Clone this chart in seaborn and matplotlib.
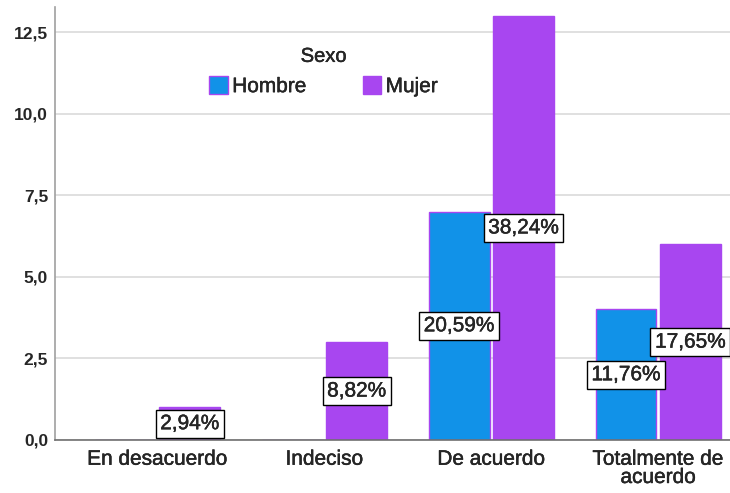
import pandas as pd
import numpy as np
import matplotlib
matplotlib.use("Agg")
import matplotlib.pyplot as plt
import matplotlib.patheffects as pe
import seaborn as sns
from matplotlib.ticker import FuncFormatter

categorias = ["En desacuerdo", "Indeciso", "De acuerdo", "Totalmente de\nacuerdo"]
hombre = [0, 0, 7, 4]
mujer = [1, 3, 13, 6]
pct_hombre = ["", "", "20,59%", "11,76%"]
pct_mujer = ["2,94%", "8,82%", "38,24%", "17,65%"]
yticks = [0, 2.5, 5, 7.5, 10, 12.5]

df = pd.DataFrame({
    "categoria": categorias * 2,
    "Sexo": ["Hombre"] * 4 + ["Mujer"] * 4,
    "n": hombre + mujer,
})

sns.set_style("white")
plt.rcParams["font.family"] = ["Liberation Sans", "DejaVu Sans"]

azul = "#1192e8"
morado = "#a846f0"
grueso = [pe.withStroke(linewidth=0.3, foreground="black")]

fig = plt.figure(figsize=(7.3, 4.93), dpi=100)
ax = fig.add_axes([55 / 730, 53 / 493, 675 / 730, 433 / 493])

sns.barplot(data=df, x="categoria", y="n", hue="Sexo", order=categorias,
            hue_order=["Hombre", "Mujer"], palette=[azul, morado],
            width=0.772, gap=0.054, edgecolor=morado, linewidth=1,
            saturation=1, ax=ax, legend=True)

ax.set_xlim(-0.614, 3.43)
ax.set_ylim(0, 13.27)
ax.set_yticks(yticks)
ax.yaxis.set_major_formatter(FuncFormatter(lambda v, p: f"{v:.1f}".replace(".", ",")))
ax.grid(axis="y", color="#dadada", linewidth=1.2)
ax.set_axisbelow(True)
ax.set_xlabel("")
ax.set_ylabel("")
for s in ["top", "right"]:
    ax.spines[s].set_visible(False)
ax.spines["left"].set_color("#a0a0a0")
ax.spines["bottom"].set_color("#707070")
ax.spines["left"].set_linewidth(1.2)
ax.spines["bottom"].set_linewidth(1.2)
ax.tick_params(axis="y", length=0, pad=5)
ax.tick_params(axis="x", length=0, pad=7)
for t in ax.get_yticklabels():
    t.set_fontsize(12.5)
    t.set_fontweight("bold")
for t in ax.get_xticklabels():
    t.set_fontsize(15)
    t.set_linespacing(0.95)
    t.set_path_effects(grueso)

for cont, etiquetas in zip(ax.containers, [pct_hombre, pct_mujer]):
    for barra, txt in zip(cont, etiquetas):
        if txt == "":
            continue
        h = barra.get_height()
        ax.text(barra.get_x() + barra.get_width() / 2, h / 2, txt,
                ha="center", va="center", fontsize=15, path_effects=grueso,
                bbox=dict(boxstyle="square,pad=0.22", fc="white", ec="black", lw=1))

leg = ax.legend(title="Sexo", ncol=2, frameon=False, loc="upper center",
                bbox_to_anchor=(0.398, 0.932), fontsize=15, title_fontsize=14.5,
                handlelength=0.9, handleheight=0.9, handletextpad=0.2,
                columnspacing=2.7, labelspacing=0.5, borderpad=0)
leg.get_title().set_path_effects(grueso)
for t in leg.get_texts():
    t.set_path_effects(grueso)

fig.savefig("out.png", dpi=100)
